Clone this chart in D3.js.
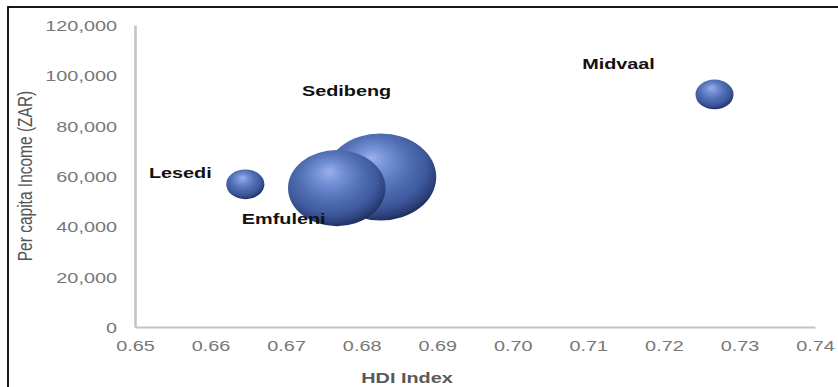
<!DOCTYPE html>
<html>
<head>
<meta charset="utf-8">
<script src="https://cdn.jsdelivr.net/npm/d3@7"></script>
<style>
  html, body { margin: 0; padding: 0; background: #fff; }
  svg { display: block; }
  text { font-family: "Liberation Sans", Arial, sans-serif; }
</style>
</head>
<body>
<svg id="chart" width="838" height="387"></svg>
<script>
// Municipalities of Sedibeng district: HDI vs per capita income, bubble = population
const municipalities = ["Sedibeng", "Emfuleni", "Lesedi", "Midvaal"];
const hdi = [0.6825, 0.6767, 0.6646, 0.7267];
const income = [59600, 55200, 56700, 92400];
const population = [957528, 733445, 112472, 111612];

const xTicks = [0.65, 0.66, 0.67, 0.68, 0.69, 0.70, 0.71, 0.72, 0.73, 0.74];
const yTicks = [0, 20000, 40000, 60000, 80000, 100000, 120000];

// label placement relative to each bubble centre (px)
const labelOffset = [[-34, -81], [-53, 36], [-65, -6], [-96, -25]];

const W = 838, H = 387;
const stretch = 1.28;           // horizontal widening of the whole figure
const plotL = 135, plotR = 815, plotT = 25, plotB = 327;

const svg = d3.select("#chart");

// frame
svg.append("rect")
  .attr("x", 8).attr("y", 7)
  .attr("width", W + 10).attr("height", H + 10)
  .attr("fill", "none").attr("stroke", "#000").attr("stroke-width", 1.8);

const x = d3.scaleLinear().domain([0.65, 0.74]).range([plotL, plotR]);
const y = d3.scaleLinear().domain([0, 120000]).range([plotB, plotT]);
const r = d3.scaleSqrt().domain([0, d3.max(population)]).range([0, 43.5]);

// sphere shading
const defs = svg.append("defs");
const grad = defs.append("radialGradient")
  .attr("id", "sphere")
  .attr("cx", 0.45).attr("cy", 0.4).attr("r", 0.62)
  .attr("fx", 0.42).attr("fy", 0.28);
[[0, "#9bb1ea"], [0.22, "#7590d6"], [0.5, "#5270b5"], [0.75, "#3f5a9e"], [0.9, "#2d427c"], [1, "#1c2a55"]]
  .forEach(([o, c]) => grad.append("stop").attr("offset", o).attr("stop-color", c));

// axes
const yAxis = svg.append("g")
  .attr("transform", `translate(${plotL},0)`)
  .call(d3.axisLeft(y).tickValues(yTicks).tickFormat(d3.format(",")).tickSize(0).tickSizeOuter(0).tickPadding(18));
const xAxis = svg.append("g")
  .attr("transform", `translate(0,${plotB})`)
  .call(d3.axisBottom(x).tickValues(xTicks).tickFormat(d3.format(".2f")).tickSize(0).tickSizeOuter(0).tickPadding(10));

yAxis.select(".domain").attr("stroke", "#c4c4c4").attr("stroke-width", 2.6);
xAxis.select(".domain").attr("stroke", "#c4c4c4").attr("stroke-width", 2);

yAxis.selectAll(".tick text")
  .attr("x", null).attr("dy", "0.36em")
  .attr("transform", `translate(-18,0) scale(${stretch},1)`)
  .attr("fill", "#777").style("font-size", "15.5px");
xAxis.selectAll(".tick text")
  .attr("y", null).attr("dy", "0.71em")
  .attr("transform", `translate(0,13) scale(${stretch},1)`)
  .attr("fill", "#777").style("font-size", "15.5px");

// axis titles
svg.append("text")
  .attr("transform", `translate(407,383) scale(${stretch},1)`)
  .attr("text-anchor", "middle")
  .attr("fill", "#595959").style("font-size", "15.5px").style("font-weight", "bold")
  .text("HDI Index");
svg.append("text")
  .attr("transform", `translate(32,176) scale(${stretch},1) rotate(-90)`)
  .attr("text-anchor", "middle")
  .attr("fill", "#555").style("font-size", "15.5px")
  .text("Per capita Income (ZAR)");

// bubbles, larger ones underneath
const rows = municipalities.map((name, i) => ({
  name, hdi: hdi[i], income: income[i], pop: population[i], off: labelOffset[i]
}));
const order = rows.slice().sort((a, b) => b.pop - a.pop);

svg.append("g").selectAll("ellipse")
  .data(order)
  .join("ellipse")
  .attr("cx", d => x(d.hdi))
  .attr("cy", d => y(d.income))
  .attr("rx", d => r(d.pop) * stretch)
  .attr("ry", d => r(d.pop))
  .attr("fill", "url(#sphere)");

// data labels
svg.append("g").selectAll("text")
  .data(rows)
  .join("text")
  .attr("transform", d => `translate(${x(d.hdi) + d.off[0]},${y(d.income) + d.off[1]}) scale(${stretch},1)`)
  .attr("text-anchor", "middle")
  .attr("fill", "#111").style("font-size", "15.5px").style("font-weight", "bold")
  .text(d => d.name);
</script>
</body>
</html>
